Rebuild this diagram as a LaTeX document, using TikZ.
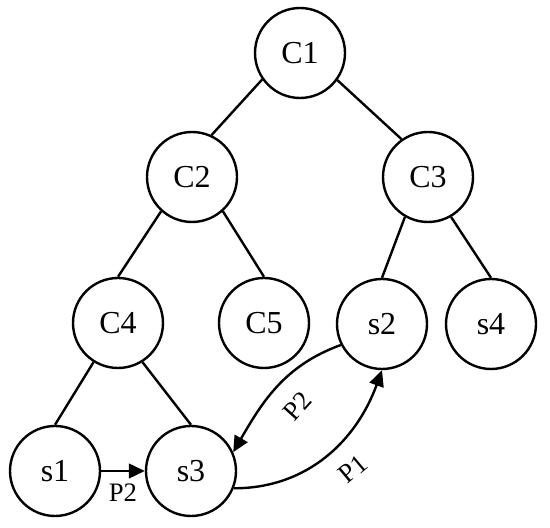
\documentclass[tikz,border=0pt]{standalone}
\usepackage{fontspec}
\setmainfont{Liberation Serif}
\usetikzlibrary{arrows.meta}

\tikzset{
  state/.style={circle, draw, line width=1.8pt, minimum size=67.5pt, inner sep=0pt, font=\fontsize{24}{28}\selectfont},
  link/.style={line width=1.8pt},
  msg/.style={line width=1.8pt, arrows=-{Triangle[length=12pt,width=11pt]}},
  lbl/.style={font=\fontsize{20}{24}\selectfont, inner sep=0pt}
}

\begin{document}
\begin{tikzpicture}[x=0.75pt, y=0.75pt]
          \useasboundingbox (0,0) rectangle (550,528);

          % tree nodes
          \node [state] (C1) at (300,475) {C1};
          \node [state] (C2) at (192,351) {C2};
          \node [state] (C3) at (428,351) {C3};
          \node [state] (C4) at (118,205) {C4};
          \node [state] (C5) at (264,205) {C5};
          \node [state] (s2) at (382,204) {s2};
          \node [state] (s4) at (491,204) {s4};
          \node [state] (s1) at (55,57) {s1};
          \node [state] (s3) at (191,57) {s3};

          % tree edges
          \draw [link] (C1.215) -- (C2.65);
          \draw [link] (C1.-36) -- (C3.125);
          \draw [link] (C2.228) -- (C4.north);
          \draw [link] (C2.-48) -- (C5.north);
          \draw [link] (C3.240) -- (s2.north);
          \draw [link] (C3.-60) -- (s4.north);
          \draw [link] (C4.238) -- (s1.north);
          \draw [link] (C4.-58) -- (s3.north);

          % messages
          \draw [msg] (s1) -- (s3) node [lbl, midway, below=9pt] (lblA) {P2};
          \draw [msg] (s3.-22) to [out=0, in=-110] (s2.south);
          \draw [msg] (s2.207) to [out=200, in=60] (s3.24);
          \node [lbl, rotate=40] (lblB) at (353,59) {P1};
          \node [lbl, rotate=48] (lblC) at (297,122) {P2};
        \end{tikzpicture}
\end{document}
